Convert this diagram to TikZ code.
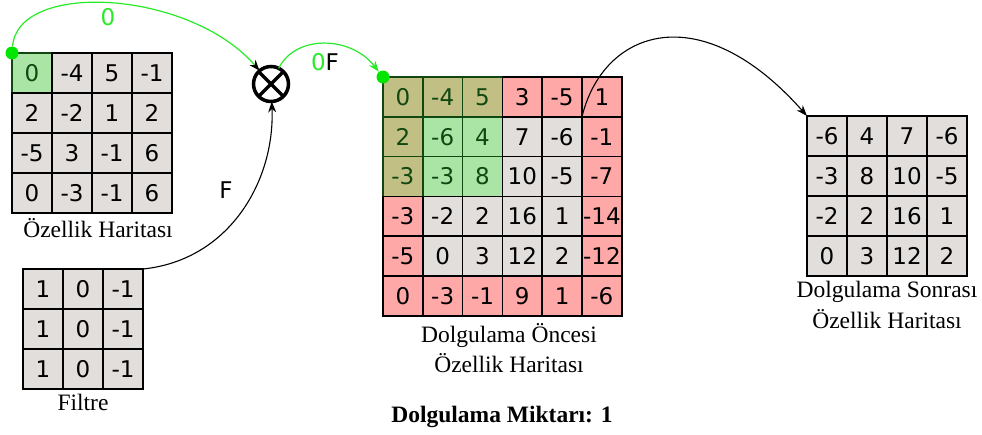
\documentclass[tikz,border=0pt]{standalone}
\usepackage{fontspec}
\setmainfont{Liberation Serif}
\newfontfamily\numfont{DejaVu Sans}
\usetikzlibrary{arrows.meta}
\definecolor{cellgray}{RGB}{226,222,219}
\definecolor{cellgreen}{RGB}{171,229,166}
\definecolor{cellolive}{RGB}{194,191,132}
\definecolor{cellpink}{RGB}{255,168,168}
\definecolor{dkgreen}{RGB}{16,72,16}
\definecolor{lgreen}{RGB}{40,235,40}
\definecolor{dotgreen}{RGB}{0,230,0}
\begin{document}
\begin{tikzpicture}[x=1pt,y=-1pt,
  numtxt/.style={font=\numfont\fontsize{23}{27}\selectfont, inner sep=0pt},
  cellbase/.style={numtxt, draw, minimum size=40pt, outer sep=0pt, line width=1.6pt, anchor=center},
  mcell/.style={minimum size=39.8pt},
  graycell/.style={cellbase, fill=cellgray},
  pinkcell/.style={cellbase, fill=cellpink},
  greencell/.style={cellbase, fill=cellgreen, draw=dkgreen, text=dkgreen},
  olivecell/.style={cellbase, fill=cellolive, draw=dkgreen, text=dkgreen},
  lbl/.style={font=\fontsize{23.5}{28}\selectfont, inner sep=0pt, anchor=base},
  gdot/.style={circle, fill=dotgreen, minimum size=13pt, inner sep=0pt},
  gline/.style={draw=lgreen, line width=1.2pt},
  bline/.style={draw=black, line width=1.1pt},
  tip/.style={-{Stealth[length=11pt,width=8pt,#1]}},
]
\useasboundingbox (0,0) rectangle (982,434);

% Feature map (top left)
\foreach \row [count=\i] in {{0,-4,5,-1},{2,-2,1,2},{-5,3,-1,6},{0,-3,-1,6}} {
  \foreach \v [count=\j] in \row {
    \pgfmathtruncatemacro\win{(\i==1)&&(\j==1)}
    \ifnum\win=1 \def\sty{greencell}\else\def\sty{graycell}\fi
    \node[\sty] (a-\i-\j) at ({12+40*(\j-0.5)},{53+40*(\i-0.5)}) {\v};
  }
}
\node[lbl] (la) at (98,237) {Özellik Haritası};

% Filter
\foreach \row [count=\i] in {{1,0,-1},{1,0,-1},{1,0,-1}} {
  \foreach \v [count=\j] in \row {
    \node[graycell] (f-\i-\j) at ({23+40*(\j-0.5)},{269+40*(\i-0.5)}) {\v};
  }
}
\node[lbl] (lfi) at (83,410) {Filtre};

% Padded map (middle)
\foreach \row [count=\i] in {{0,-4,5,3,-5,1},{2,-6,4,7,-6,-1},{-3,-3,8,10,-5,-7},{-3,-2,2,16,1,-14},{-5,0,3,12,2,-12},{0,-3,-1,9,1,-6}} {
  \foreach \v [count=\j] in \row {
    \pgfmathtruncatemacro\pad{(\i==1)||(\i==6)||(\j==1)||(\j==6)}
    \pgfmathtruncatemacro\win{(\i<=3)&&(\j<=3)}
    \ifnum\win=1
      \ifnum\pad=1 \def\sty{olivecell}\else\def\sty{greencell}\fi
    \else
      \ifnum\pad=1 \def\sty{pinkcell}\else\def\sty{graycell}\fi
    \fi
    \node[\sty, mcell] (m-\i-\j) at ({383+39.8*(\j-0.5)},{77+39.8*(\i-0.5)}) {\v};
  }
}
\node[lbl] (lm1) at (509,342) {Dolgulama Öncesi};
\node[lbl] (lm2) at (509,372) {Özellik Haritası};

% Output map (right)
\foreach \row [count=\i] in {{-6,4,7,-6},{-3,8,10,-5},{-2,2,16,1},{0,3,12,2}} {
  \foreach \v [count=\j] in \row {
    \node[graycell] (r-\i-\j) at ({807+40*(\j-0.5)},{116+40*(\i-0.5)}) {\v};
  }
}
\node[lbl] (lr1) at (887,297) {Dolgulama Sonrası};
\node[lbl] (lr2) at (887,328) {Özellik Haritası};

\node[lbl, font=\bfseries\fontsize{23.5}{28}\selectfont] (lb) at (502,422) {Dolgulama Miktarı: 1};

% Multiply symbol
\node[draw, circle, minimum size=35pt, line width=3.5pt, inner sep=0pt, outer sep=0pt] (ot) at (271,84) {};
\draw[line width=3.5pt] (ot.45) -- (ot.225) (ot.135) -- (ot.315);

% Dots
\node[gdot] (dA) at (a-1-1.north west) {};
\node[gdot] (dM) at (m-1-1.north west) {};

% Connectors
\draw[gline, tip=black] (dA) .. controls (18,-20) and (190,-10) .. (ot);
\node[numtxt, text=lgreen] (l0) at (108,17) {0};

\draw[bline, tip=black] (f-1-3.north east) .. controls (230,260) and (275,180) .. (ot);
\node[numtxt] (lF) at (226,190) {F};

\draw[gline, tip=lgreen] (ot) .. controls (295,35) and (350,35) .. (dM);
\node[numtxt] (l0F) at (325,62) {\textcolor{lgreen}{0}F};

\coordinate (ms) at (m-1-5.south east);
\coordinate (re) at (r-1-1.north west);
\draw[bline, tip=black] (ms) .. controls (603,30) and (700,-5) .. (re);
\end{tikzpicture}
\end{document}
